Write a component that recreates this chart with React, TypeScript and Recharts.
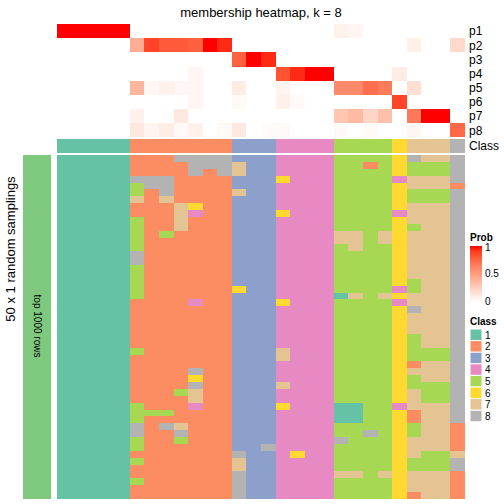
import React from 'react';
import { ScatterChart, Scatter, XAxis, YAxis, BarChart, Bar } from 'recharts';

const FONT = '"Liberation Sans", Arial, Helvetica, sans-serif';

// Set2 colours for classes 1..8
const CLASS_COLORS = ['#66C2A5', '#FC8D62', '#8DA0CB', '#E78AC3', '#A6D854', '#FFD92F', '#E5C494', '#B3B3B3'];
const classLabels = ['1', '2', '3', '4', '5', '6', '7', '8'];
const memberLabels = ['p1', 'p2', 'p3', 'p4', 'p5', 'p6', 'p7', 'p8', 'Class'];

// class of each of the 28 columns
const columnClass = [1, 1, 1, 1, 1, 2, 2, 2, 2, 2, 2, 2, 3, 3, 3, 4, 4, 4, 4, 5, 5, 5, 5, 6, 7, 7, 7, 8];

// membership probabilities, one array per class
const p1 = [1, 1, 1, 1, 1, 0, 0, 0, 0, 0, 0, 0, 0, 0, 0, 0, 0, 0, 0, 0.07, 0.05, 0, 0, 0, 0, 0, 0, 0];
const p2 = [0, 0, 0, 0, 0, 0.42, 0.88, 0.8, 0.8, 0.78, 1, 0.95, 0, 0, 0, 0, 0, 0, 0, 0, 0, 0, 0, 0, 0.08, 0, 0, 0.2];
const p3 = [0, 0, 0, 0, 0, 0, 0, 0, 0, 0, 0, 0, 0.78, 1, 0.95, 0, 0, 0, 0, 0, 0, 0, 0, 0, 0, 0, 0, 0];
const p4 = [0, 0, 0, 0, 0, 0, 0, 0, 0, 0.05, 0, 0, 0, 0, 0, 0.83, 0.95, 1, 1, 0, 0, 0, 0, 0.1, 0, 0, 0, 0];
const p5 = [0, 0, 0, 0, 0, 0.38, 0.04, 0.07, 0.04, 0.05, 0, 0, 0.1, 0, 0, 0.06, 0, 0, 0, 0.6, 0.6, 0.72, 0.66, 0, 0.17, 0, 0, 0];
const p6 = [0, 0, 0, 0, 0, 0, 0, 0, 0, 0.05, 0, 0, 0.03, 0, 0, 0.08, 0.03, 0, 0, 0, 0, 0, 0, 0.88, 0, 0, 0, 0];
const p7 = [0, 0, 0, 0, 0, 0.07, 0, 0, 0.12, 0, 0, 0, 0, 0, 0, 0, 0, 0, 0, 0.3, 0.36, 0.22, 0.33, 0, 0.68, 1, 1, 0];
const p8 = [0, 0, 0, 0, 0, 0.12, 0.06, 0.1, 0.03, 0.07, 0, 0.03, 0.12, 0, 0.02, 0.03, 0, 0, 0, 0.03, 0, 0.03, 0, 0, 0.05, 0, 0, 0.75];
const memberships = [p1, p2, p3, p4, p5, p6, p7, p8];

// predicted class per sampling (rows) and column, '|' marks class groups
const samplingRows = [
  '11111|2228888|333|4444|5555|6|877|8',
  '11111|2222888|733|4444|5525|6|555|8',
  '11111|2222828|733|4444|5555|6|555|8',
  '11111|8882222|333|6444|5555|4|777|8',
  '11111|5882222|333|4444|5555|6|777|2',
  '11111|5282222|733|4444|5555|6|555|8',
  '11111|7272222|333|4444|5555|6|555|8',
  '11111|2227622|333|4444|5555|6|777|8',
  '11111|2227422|333|6444|5555|4|777|8',
  '11111|5227222|333|4444|5555|6|777|8',
  '11111|5227222|333|4444|5555|6|577|8',
  '11111|5252222|333|4444|7757|6|777|8',
  '11111|5222222|333|4444|7757|6|777|8',
  '11111|5222222|333|4444|5755|6|777|8',
  '11111|8222222|333|4444|5555|6|777|8',
  '11111|8222222|333|4444|5555|6|777|8',
  '11111|5222222|333|4444|5555|6|777|8',
  '11111|5222222|333|4444|5555|6|777|8',
  '11111|5222222|333|4444|5555|6|577|8',
  '11111|5222222|633|4444|5555|4|577|8',
  '11111|5222222|333|4444|1757|6|777|8',
  '11111|2222422|333|6444|5555|4|777|8',
  '11111|2222222|333|4444|5555|6|877|8',
  '11111|2222222|333|4444|5555|6|777|8',
  '11111|2222222|333|4444|5555|6|777|8',
  '11111|2222222|333|4444|5555|6|777|8',
  '11111|2222222|333|4444|5555|6|577|8',
  '11111|2222222|333|4444|5555|6|577|8',
  '11111|5222222|333|7444|5555|6|555|8',
  '11111|2222222|333|7444|5555|6|555|8',
  '11111|2222222|333|4444|5555|6|277|8',
  '11111|2222822|333|4444|5555|6|777|8',
  '11111|2222622|333|4444|5555|6|577|8',
  '11111|2222822|333|7444|5555|6|555|8',
  '11111|2225722|333|4444|5555|6|755|8',
  '11111|2222722|333|4444|5555|6|755|8',
  '11111|5222422|333|6444|1155|4|777|8',
  '11111|5552222|333|4444|1155|6|277|8',
  '11111|5222222|333|4444|1155|6|277|8',
  '11111|8287222|333|4444|5555|6|577|2',
  '11111|8228222|333|4444|5585|6|577|2',
  '11111|5225222|333|4444|8555|6|777|2',
  '11111|5222222|338|4444|5555|6|777|2',
  '11111|2222222|833|4644|5555|6|755|7',
  '11111|5222222|733|4444|5555|6|555|8',
  '11111|2222222|733|4444|5555|6|555|8',
  '11111|2222222|833|4444|7757|6|777|2',
  '11111|5222222|833|4444|5555|6|777|2',
  '11111|2222222|833|4444|5555|6|777|2',
  '11111|2222222|833|4444|5555|6|277|2',
];

const annotation = [{ name: 'top 1000 rows', value: 1 }];

// white -> red in LAB space, like colorRamp2
const RED_LAB = [53.24, 80.09, 67.2];
function probColor(v: number) {
  const L = 100 + (RED_LAB[0] - 100) * v;
  const fy = (L + 16) / 116;
  const fx = fy + (RED_LAB[1] * v) / 500;
  const fz = fy - (RED_LAB[2] * v) / 200;
  const inv = (t: number) => (t > 6 / 29 ? t * t * t : 3 * (6 / 29) ** 2 * (t - 4 / 29));
  const X = 0.95047 * inv(fx);
  const Y = inv(fy);
  const Z = 1.08883 * inv(fz);
  const lin = [
    3.2406 * X - 1.5372 * Y - 0.4986 * Z,
    -0.9689 * X + 1.8758 * Y + 0.0415 * Z,
    0.0557 * X - 0.204 * Y + 1.057 * Z,
  ];
  const ch = lin.map((c) => {
    const g = c <= 0.0031308 ? 12.92 * c : 1.055 * Math.pow(c, 1 / 2.4) - 0.055;
    return Math.round(255 * Math.min(1, Math.max(0, g)));
  });
  return `rgb(${ch.join(',')})`;
}

const NCOL = columnClass.length;
const CW = 408 / NCOL;
const TOP_DOMAIN = 9.1;
const TOP_H = 129 / TOP_DOMAIN;
const MAIN_H = 344 / samplingRows.length;
const CLASS_ROW_Y = 8.6;

const topCells = [
  ...memberships.flatMap((vals, r) => vals.map((v, c) => ({ x: c + 0.5, y: r + 0.5, fill: probColor(v) }))),
  ...columnClass.map((k, c) => ({ x: c + 0.5, y: CLASS_ROW_Y, fill: CLASS_COLORS[k - 1] })),
];
const topTicks = [0.5, 1.5, 2.5, 3.5, 4.5, 5.5, 6.5, 7.5, CLASS_ROW_Y];

const mainCells = samplingRows.flatMap((row, r) =>
  row
    .replace(/\|/g, '')
    .split('')
    .map((ch, c) => ({ x: c + 0.5, y: r + 0.5, fill: CLASS_COLORS[Number(ch) - 1] }))
);

// snap cell edges to whole pixels so neighbouring cells meet without seams
const cellShape = (w: number, h: number) => (props: any) => {
  const x0 = Math.round(props.cx - w / 2);
  const x1 = Math.round(props.cx + w / 2);
  const y0 = Math.round(props.cy - h / 2);
  const y1 = Math.round(props.cy + h / 2);
  return <rect x={x0} y={y0} width={x1 - x0} height={y1 - y0} fill={props.payload.fill} shapeRendering="crispEdges" />;
};

const gradientStops = [0, 0.1, 0.2, 0.3, 0.4, 0.5, 0.6, 0.7, 0.8, 0.9, 1];

export default function App() {
  return (
    <div style={{ position: 'absolute', left: 0, top: 0, width: 504, height: 504, background: '#fff', fontFamily: FONT }}>
      <div style={{ position: 'absolute', left: 0, top: 0 }}>
        <ScatterChart width={504} height={504} margin={{ top: 24, right: 0, bottom: 351, left: 57 }}>
          <XAxis type="number" dataKey="x" domain={[0, NCOL]} hide />
          <YAxis
            type="number"
            dataKey="y"
            domain={[0, TOP_DOMAIN]}
            reversed
            orientation="right"
            width={39}
            ticks={topTicks}
            interval={0}
            tickFormatter={(_v: number, i: number) => memberLabels[i]}
            axisLine={false}
            tickLine={false}
            tickSize={2}
            tickMargin={2}
            tick={{ fontSize: 12, fill: '#000', fontFamily: FONT }}
          />
          <Scatter data={topCells} shape={cellShape(CW, TOP_H)} isAnimationActive={false} />
        </ScatterChart>
      </div>
      <div style={{ position: 'absolute', left: 0, top: 0 }}>
        <ScatterChart width={504} height={504} margin={{ top: 155, right: 39, bottom: 5, left: 57 }}>
          <XAxis type="number" dataKey="x" domain={[0, NCOL]} hide />
          <YAxis type="number" dataKey="y" domain={[0, samplingRows.length]} reversed hide />
          <Scatter data={mainCells} shape={cellShape(CW, MAIN_H)} isAnimationActive={false} />
        </ScatterChart>
      </div>
      <div style={{ position: 'absolute', left: 23, top: 155 }}>
        <BarChart width={28} height={344} data={annotation} margin={{ top: 0, right: 0, bottom: 0, left: 0 }} barCategoryGap={0}>
          <XAxis dataKey="name" hide />
          <YAxis domain={[0, 1]} hide />
          <Bar dataKey="value" fill="#7FC97F" isAnimationActive={false} />
        </BarChart>
      </div>
      <svg width={504} height={504} style={{ position: 'absolute', left: 0, top: 0, pointerEvents: 'none' }} fontFamily={FONT}>
        <defs>
          <linearGradient id="probGrad" x1="0" y1="1" x2="0" y2="0">
            {gradientStops.map((s) => (
              <stop key={s} offset={s} stopColor={probColor(s)} />
            ))}
          </linearGradient>
        </defs>
        <text x={261} y={16.5} fontSize={13} textAnchor="middle" fill="#000">
          membership heatmap, k = 8
        </text>
        <text transform="translate(15,249) rotate(-90)" fontSize={13} textAnchor="middle" fill="#000">
          50 x 1 random samplings
        </text>
        <text transform="translate(34,326) rotate(90)" fontSize={10} textAnchor="middle" fill="#000">
          top 1000 rows
        </text>
        <text x={470} y={241} fontSize={10} fontWeight="bold" fill="#000">
          Prob
        </text>
        <rect x={470} y={246} width={12} height={56} fill="url(#probGrad)" />
        <text x={485} y={251} fontSize={10} fill="#000">1</text>
        <text x={485} y={277} fontSize={10} fill="#000">0.5</text>
        <text x={485} y={305} fontSize={10} fill="#000">0</text>
        <text x={470} y={325} fontSize={10} fontWeight="bold" fill="#000">
          Class
        </text>
        {classLabels.map((lab, i) => (
          <g key={lab}>
            <rect x={470} y={329 + i * 11.6} width={12} height={11.6} fill={CLASS_COLORS[i]} stroke="#fff" strokeWidth={1} />
            <text x={485} y={338.5 + i * 11.6} fontSize={10} fill="#000">
              {lab}
            </text>
          </g>
        ))}
      </svg>
    </div>
  );
}
